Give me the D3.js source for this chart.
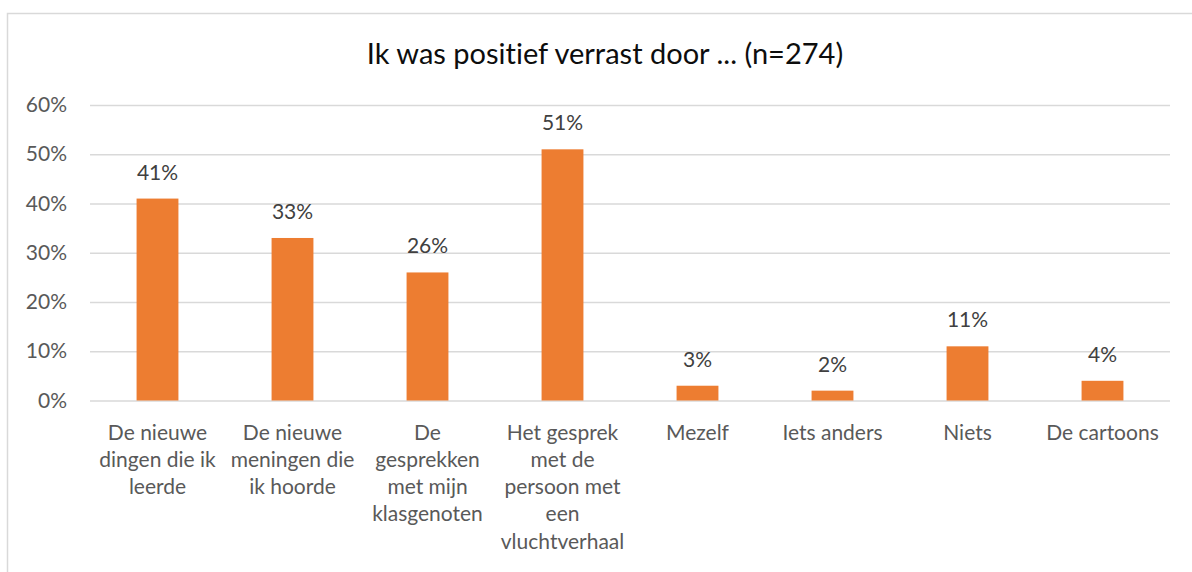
<!DOCTYPE html>
<html>
<head>
<meta charset="utf-8">
<script src="https://cdn.jsdelivr.net/npm/d3@7"></script>
<style>
  html, body { margin: 0; padding: 0; background: #fff; }
  svg { display: block; font-family: Lato, "Liberation Sans", sans-serif; }
  svg text { font-variant-ligatures: none; font-feature-settings: "liga" 0; }
</style>
</head>
<body>
<svg id="chart" width="1192" height="572"></svg>
<script>
// Survey answers: "Ik was positief verrast door ..." (n=274)
const categories = [
  "De nieuwe dingen die ik leerde",
  "De nieuwe meningen die ik hoorde",
  "De gesprekken met mijn klasgenoten",
  "Het gesprek met de persoon met een vluchtverhaal",
  "Mezelf",
  "Iets anders",
  "Niets",
  "De cartoons"
];
const values = [41, 33, 26, 51, 3, 2, 11, 4];
const yTicks = [0, 10, 20, 30, 40, 50, 60];
const title = "Ik was positief verrast door ... (n=274)";

const svg = d3.select("#chart");
const W = 1192, H = 572;
const plot = { left: 90, right: 1170, top: 105, bottom: 400.5 };

// chart frame (top and left edges only visible)
svg.append("path")
  .attr("d", `M7.5,${H} L7.5,13.5 L${W},13.5`)
  .attr("fill", "none")
  .attr("stroke", "#d9d9d9")
  .attr("stroke-width", 1.5);

const x = d3.scaleBand()
  .domain(categories)
  .range([plot.left, plot.right])
  .paddingInner(0.69)
  .paddingOuter(0.345);

const y = d3.scaleLinear()
  .domain([0, 60])
  .range([plot.bottom, plot.top]);

// title
svg.append("text")
  .attr("x", 605)
  .attr("y", 64)
  .attr("text-anchor", "middle")
  .attr("font-size", 29)
  .attr("fill", "#0d0d0d")
  .text(title);

// gridlines + y labels
const yAxis = d3.axisLeft(y)
  .tickValues(yTicks)
  .tickSize(-(plot.right - plot.left))
  .tickPadding(23)
  .tickFormat(d => d + "%");

const gy = svg.append("g")
  .attr("transform", `translate(${plot.left},0)`)
  .call(yAxis);
gy.select(".domain").remove();
gy.selectAll(".tick line")
  .attr("stroke", "#d9d9d9")
  .attr("stroke-width", 1.5);
gy.selectAll(".tick text")
  .attr("font-size", 21)
  .attr("fill", "#595959")
  .attr("font-family", "Lato, sans-serif");

// bars
svg.append("g")
  .selectAll("rect")
  .data(values)
  .join("rect")
  .attr("x", (d, i) => x(categories[i]))
  .attr("width", x.bandwidth())
  .attr("y", d => y(d))
  .attr("height", d => y(0) - y(d))
  .attr("fill", "#ed7d31");

// value labels
svg.append("g")
  .selectAll("text")
  .data(values)
  .join("text")
  .attr("x", (d, i) => x(categories[i]) + x.bandwidth() / 2)
  .attr("y", d => y(d) - 19)
  .attr("text-anchor", "middle")
  .attr("font-size", 21)
  .attr("fill", "#404040")
  .text(d => d + "%");

// category labels, wrapped to the band step
const xAxis = d3.axisBottom(x).tickSize(0).tickPadding(0);
const gx = svg.append("g")
  .attr("transform", `translate(0,${plot.bottom})`)
  .call(xAxis);
gx.select(".domain").remove();

const maxW = x.step() - 4;
const lineH = 27.3;
gx.selectAll(".tick text")
  .attr("font-size", 21)
  .attr("fill", "#595959")
  .attr("font-family", "Lato, sans-serif")
  .attr("y", 0)
  .attr("dy", 0)
  .each(function(label) {
    const t = d3.select(this);
    const words = label.split(" ");
    t.text(null);
    let lines = [], cur = [];
    const probe = t.append("tspan");
    words.forEach(w => {
      const test = cur.concat([w]).join(" ");
      probe.text(test);
      if (probe.node().getComputedTextLength() > maxW && cur.length) {
        lines.push(cur.join(" "));
        cur = [w];
      } else {
        cur.push(w);
      }
    });
    if (cur.length) lines.push(cur.join(" "));
    probe.remove();
    lines.forEach((ln, i) => {
      t.append("tspan")
        .attr("x", 0)
        .attr("y", 39 + i * lineH)
        .text(ln);
    });
  });
</script>
</body>
</html>
